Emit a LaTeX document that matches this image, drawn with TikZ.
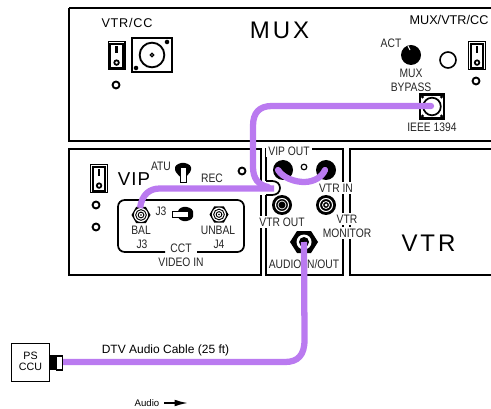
\documentclass[tikz,border=0pt]{standalone}
\usepackage{fontspec}
\setmainfont{Liberation Sans}
\newfontfamily\narrowf[FakeStretch=0.84]{Liberation Sans}
\newfontfamily\spacedf[LetterSpace=12]{Liberation Sans}
\newfontfamily\wideaf[LetterSpace=6]{Liberation Sans}
\usetikzlibrary{arrows.meta}
\definecolor{cable}{RGB}{186,122,240}
\tikzset{
  panel/.style={draw=black,line width=1.5pt,fill=white},
  lab/.style={inner sep=0pt,font=\narrowf\fontsize{9.2}{9.2}\selectfont,text=black!85},
  wlab/.style={lab,fill=white,inner xsep=1.5pt,inner ysep=1pt},
  plainlab/.style={inner sep=0pt,font=\fontsize{9}{9}\selectfont},
  title/.style={inner sep=0pt,font=\spacedf\fontsize{18}{18}\selectfont},
  cablel/.style={draw=cable,line width=4.7pt,line cap=round},
  ring/.style={draw=black,line width=1.4pt,fill=white,circle,inner sep=0pt,minimum size=5.2pt},
  knob/.style={fill=black,circle,inner sep=0pt,minimum size=15pt},
}
\newcommand{\rockerswitch}[3]{% name, x, y (top-left corner)
  \node[draw=black,line width=1pt,fill=white,minimum width=12.6pt,minimum height=21pt,inner sep=0pt,anchor=north west] (#1) at (#2,#3) {};
  \draw[line width=1.5pt] ([shift={(2pt,2pt)}]#1.south west) rectangle ([shift={(-2pt,-2pt)}]#1.north east);
  \fill ([shift={(-1pt,-3.4pt)}]#1.north) rectangle ([shift={(1pt,-9pt)}]#1.north);
  \draw[line width=1.3pt] ([yshift=5.8pt]#1.south) circle (1.7pt);
}
\newcommand{\coax}[2]{% center coordinate name, hex radius
  \fill (#1) ++(0:#2) -- ++(120:#2) -- ++(180:#2) -- ++(240:#2) -- ++(300:#2) -- ++(0:#2) -- cycle;
  \fill[white] (#1) circle (0.74*#2);
  \draw[line width=0.7pt] (#1) circle (0.56*#2);
  \draw[line width=0.7pt] (#1) circle (0.3*#2);
  \fill (#1) circle (0.1*#2);
}
\begin{document}
\begin{tikzpicture}[x=0.75pt,y=-0.75pt]
\useasboundingbox (0,0) rectangle (491,409);
% panels
\path[panel] (69,8) -- (491,8) (69,8) -- (69,141.5) -- (491,141.5);
\path[panel] (69,149) rectangle (261,275);
\path[panel] (266,149) rectangle (343,275);
\path[panel] (491,149) -- (350,149) -- (350,275) -- (491,275);
\node[title] (muxt) at (279.5,30) {MUX};
\node[title] (vtrt) at (428.5,243) {VTR};
\node[inner sep=0pt,font=\wideaf\fontsize{14}{14}\selectfont] (vipt) at (134,179) {VIP};
% VTR/CC
\node[inner sep=0pt,font=\wideaf\fontsize{9.5}{9.5}\selectfont] (vtrcc) at (127,23) {VTR/CC};
\rockerswitch{swa}{107.5}{41}
\node[draw=black,line width=1.5pt,minimum width=30.5pt,minimum height=26pt,inner sep=0pt] (sqa) at (152,55) {};
\node[draw=black,line width=1.4pt,circle,minimum size=18.5pt,inner sep=0pt] (cira) at (152,55) {};
\node[ring,minimum size=2.5pt,line width=0.9pt] (cena) at (152,55) {};
\fill (167,42) circle (1.7pt) (136,68) circle (1.7pt);
\node[ring] (la) at (116,85) {};
% MUX right side
\node[inner sep=0pt,font=\fontsize{9.5}{9.5}\selectfont] (muxcc) at (449,20) {MUX/VTR/CC};
\node[lab] (act) at (391,43) {ACT};
\node[knob] (kn) at (411,55) {};
\draw[white,line width=0.7pt] (kn.center) ++(-3,-9) -- ++(2,4);
\node[lab] (muxl) at (411,73) {MUX};
\node[lab] (byp) at (411,87) {BYPASS};
\node[draw=black,line width=1.2pt,circle,minimum size=12pt,inner sep=0pt,fill=white] (bigc) at (448,60) {};
\rockerswitch{swb}{468}{41}
\node[ring] (lb) at (476,81) {};
\node[draw=black,line width=1.2pt,minimum width=19pt,minimum height=19pt,inner sep=0pt,fill=white] (ieee) at (432,106.5) {};
\draw[line width=0.6pt] ([shift={(1.6pt,1.6pt)}]ieee.south west) rectangle ([shift={(-1.6pt,-1.6pt)}]ieee.north east);
\draw[line width=1.3pt,fill=white] (ieee.center) circle (6.6pt);
\foreach \a in {45,135,225,315}{\fill (ieee.center) ++(\a:13.5) circle (1.3pt);}
\node[lab] (ieeel) at (432,127) {IEEE 1394};
% VIP
\rockerswitch{swc}{90}{164}
\node[ring] (lc) at (96,205) {};
\node[ring] (ld) at (96,227) {};
\node[ring] (le) at (242,171) {};
\node[lab] (atu) at (161,166) {ATU};
\node[lab] (rec) at (212,178) {REC};
\coordinate (tog) at (183,170);
\fill[rounded corners=1pt] (175,166) -- (180,163) -- (186,163) -- (191,166) -- (191,171) -- (186,177) -- (180,177) -- (175,171) -- cycle;
\draw[fill=white,line width=0.6pt] (180.5,167) rectangle (186,182);
\draw[line width=1.3pt,rounded corners=5pt] (165,252) -- (118,252) -- (118,200) -- (244,200) -- (244,252) -- (197,252);
\coordinate (bal) at (141,215);
\coax{bal}{9.5}
\coordinate (unbal) at (219,214.5);
\coax{unbal}{9.5}
\coordinate (togb) at (186,214);
\fill[rounded corners=1pt] (182,207) -- (188,207) -- (193,210) -- (193,218) -- (188,221) -- (182,221) -- (178,218) -- (178,210) -- cycle;
\draw[fill=white,line width=0.6pt] (172,211.5) rectangle (188,217);
\node[lab] (j3b) at (161,211) {J3};
\node[lab] (ball) at (141,230) {BAL};
\node[lab] (unball) at (218,230) {UNBAL};
\node[lab] (j3l) at (142,244) {J3};
\node[lab] (j4l) at (219,244) {J4};
\node[lab] (cct) at (181,248) {CCT};
\node[lab] (vidin) at (181,262) {VIDEO IN};
% middle panel
\node[wlab] (vipo) at (289,151) {VIP OUT};
\node[knob] (ka) at (283,170) {};
\node[knob] (kb) at (326,170) {};
\node[ring,minimum size=4.2pt,line width=0.9pt] (lf) at (304,167) {};
\coordinate (vtro) at (282,205);
\fill (vtro) circle (10);
\draw[white,line width=0.8pt] (vtro) circle (6.5);
\draw[white,line width=0.5pt] (vtro) circle (4);
\coordinate (vtri) at (326,205);
\fill (vtri) circle (10);
\draw[white,line width=0.8pt] (vtri) circle (6.5);
\draw[white,line width=0.6pt] (vtri) circle (3.5);
\fill[white] (vtri) circle (1.5);
\node[wlab,inner xsep=.5pt] (vtril) at (336,188) {VTR IN};
\node[wlab,inner xsep=.5pt] (vtrol) at (282,222) {VTR OUT};
\node[wlab,inner xsep=.5pt] (vtrm) at (347,219) {VTR};
\node[wlab,inner xsep=.5pt] (mon) at (347,233) {MONITOR};
\coordinate (aud) at (304,242);
\fill (290,242) -- (297,231) -- (311,231) -- (318,242) -- (311,253) -- (297,253) -- cycle;
\fill[white] (304,242) circle (7.5);
\fill (304,242) circle (5);
\node[lab] (audl) at (304,264) {AUDIO IN/OUT};
% black loop, breaking the panel border
\fill[white] (259,181) rectangle (268,195);
\draw[line width=1.3pt] (266,181) -- (272,181) .. controls (277,181) and (280,184) .. (280,188) .. controls (280,192) and (277,195) .. (272,195) -- (266,195);
% cables
\coordinate (ieeeend) at (431,106);
\coordinate (loopa) at (268,187);
\coordinate (balend) at (140,208);
\coordinate (loopb) at (274,188.5);
\draw[cablel,line cap=butt] (balend) .. controls (142,194) and (150,188.5) .. (160,188.5) -- (loopb);
\draw[cablel] (ieeeend) -- (272,106) .. controls (259,106) and (253,113) .. (253,126) -- (253,167) .. controls (253,178) and (258,185) .. (loopa);
\draw[cablel] (278,170) .. controls (283,178) and (295,182) .. (304,182) .. controls (314,182) and (322,177) .. (325,170);
\coordinate (cca) at (62,362);
\draw[cablel,line cap=butt] (aud) -- (304.5,340) .. controls (304.5,355) and (298,362) .. (285,362) -- (cca);
% PS CCU
\node[draw=black,line width=1.2pt,fill=white,minimum width=28.5pt,minimum height=28.5pt,inner sep=0pt] (ps) at (30.5,362.5) {};
\node[inner sep=0pt,align=center,font=\fontsize{8}{8.5}\selectfont] (pst) at (30.5,361) {PS\\CCU};
\fill (49,355) rectangle (56,370);
\node[draw=black,line width=1pt,fill=white,minimum width=4.5pt,minimum height=10.5pt,inner sep=0pt] (plug) at (59.5,363) {};
\node[plainlab] (cablt) at (165.5,350) {DTV Audio Cable (25 ft)};
\node[inner sep=0pt,font=\fontsize{7.2}{7.2}\selectfont] (audt) at (147,403) {Audio};
\coordinate (arra) at (164,403);
\coordinate (arrb) at (188,403);
\draw[line width=1.2pt,-{Latex[length=10pt,width=5pt]}] (arra) -- (arrb);
\end{tikzpicture}
\end{document}
